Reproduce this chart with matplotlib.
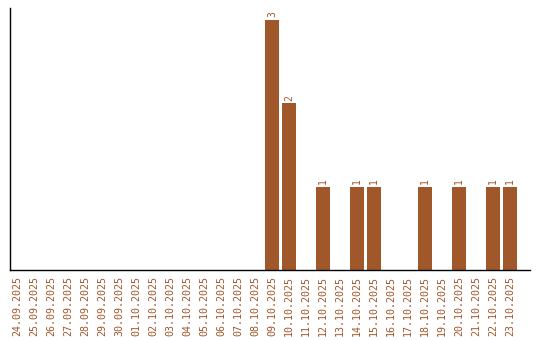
import matplotlib
matplotlib.use("Agg")
import matplotlib.pyplot as plt

dates = ["24.09.2025", "25.09.2025", "26.09.2025", "27.09.2025", "28.09.2025",
         "29.09.2025", "30.09.2025", "01.10.2025", "02.10.2025", "03.10.2025",
         "04.10.2025", "05.10.2025", "06.10.2025", "07.10.2025", "08.10.2025",
         "09.10.2025", "10.10.2025", "11.10.2025", "12.10.2025", "13.10.2025",
         "14.10.2025", "15.10.2025", "16.10.2025", "17.10.2025", "18.10.2025",
         "19.10.2025", "20.10.2025", "21.10.2025", "22.10.2025", "23.10.2025"]
counts = [0, 0, 0, 0, 0, 0, 0, 0, 0, 0,
          0, 0, 0, 0, 0, 3, 2, 0, 1, 0,
          1, 1, 0, 0, 1, 0, 1, 0, 1, 1]

bar_color = "#a0572a"

fig = plt.figure(figsize=(5.4, 3.4), dpi=100)
ax = fig.add_axes([10 / 540, 70 / 340, 520 / 540, 262 / 340])

x = list(range(len(dates)))
bars = ax.bar(x, counts, width=0.82, color=bar_color)

for xi, v in zip(x, counts):
    if v > 0:
        ax.text(xi, v + 0.03, str(v), rotation=90, ha="center", va="bottom",
                fontsize=7, family="DejaVu Sans Mono", color=bar_color)

ax.set_xlim(-0.41, 30.18)
ax.set_ylim(0, 3.14)
ax.set_xticks(x)
ax.set_xticklabels(dates, rotation=90, fontsize=7.2, family="DejaVu Sans Mono",
                   color=bar_color)
ax.tick_params(axis="x", length=0, pad=4)
ax.set_yticks([])
ax.spines["top"].set_visible(False)
ax.spines["right"].set_visible(False)
ax.spines["left"].set_linewidth(1)
ax.spines["bottom"].set_linewidth(1)

fig.savefig("out.png", dpi=100)
